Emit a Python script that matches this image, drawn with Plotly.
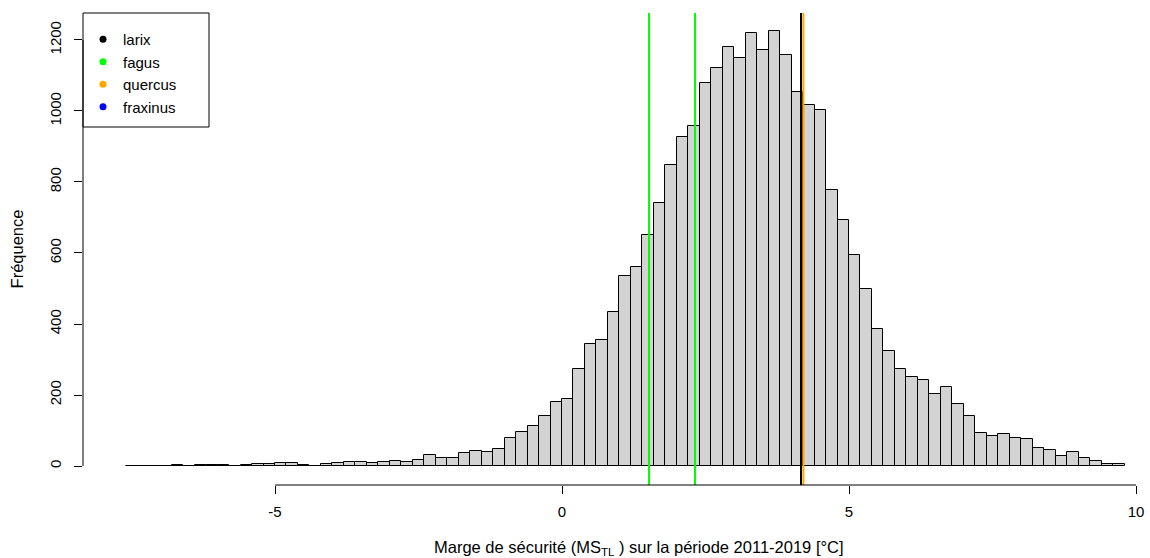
import plotly.graph_objects as go

# ---- data ----
bin_start = -7.6
bin_width = 0.2
counts = [0, 0, 0, 0, 3, 0, 2, 2, 2, 0, 2, 5, 6, 8, 8, 3, 0, 5, 8, 12,
          12, 8, 11, 14, 10, 17, 31, 22, 22, 37, 43, 39, 48, 80, 96, 113, 141, 180,
          189, 274, 344, 355, 434, 535, 561, 650, 740, 847, 927, 957, 1078, 1120,
          1179, 1148, 1219, 1171, 1224, 1157, 1053, 1016, 1002, 777, 692, 595, 499,
          387, 325, 273, 251, 242, 204, 223, 175, 141, 93, 85, 90, 79, 76, 51, 46,
          28, 39, 22, 14, 6, 6]
species = ["larix", "fagus", "quercus", "fraxinus"]
species_colors = ["#000000", "#00FF00", "#FFA500", "#0000FF"]
larix_vals = [4.164]
fagus_vals = [1.516, 2.317]
quercus_vals = [4.205]
fraxinus_vals = []
x_ticks = [-5, 0, 5, 10]
y_ticks = [0, 200, 400, 600, 800, 1000, 1200]
x_title = "Marge de sécurité (MS<sub>TL</sub> ) sur la période 2011-2019 [°C]"
y_title = "Fréquence"

centers = [bin_start + bin_width * (i + 0.5) for i in range(len(counts))]

W, H = 1150, 558
ml, mr, mt, mb = 83, 0, 13, 73
pw, ph = W - ml - mr, H - mt - mb
font = "Liberation Sans, Arial, sans-serif"

fig = go.Figure()
fig.add_trace(go.Bar(
    x=centers, y=counts, width=bin_width,
    marker=dict(color="#D3D3D3", line=dict(color="#000000", width=1)),
    showlegend=False, hoverinfo="x+y",
))

for name, col in zip(species, species_colors):
    fig.add_trace(go.Scatter(
        x=[None], y=[None], mode="markers", name=name,
        marker=dict(color=col, size=7, symbol="circle"),
    ))

line_sets = [(larix_vals, species_colors[0]), (fagus_vals, species_colors[1]),
             (fraxinus_vals, species_colors[3]), (quercus_vals, species_colors[2])]
for vals, col in line_sets:
    for v in vals:
        fig.add_vline(x=v, line=dict(color=col, width=2))

# R-style axis lines spanning only first..last tick
fig.add_shape(type="line", xref="x", yref="paper", x0=min(x_ticks), x1=max(x_ticks),
              y0=0, y1=0, line=dict(color="#000000", width=1))
fig.add_shape(type="line", xref="paper", yref="y", x0=0, x1=0,
              y0=min(y_ticks), y1=max(y_ticks), line=dict(color="#000000", width=1))
# legend box
fig.add_shape(type="rect", xref="paper", yref="paper",
              x0=0, x1=126 / pw, y0=1 - 114 / ph, y1=1,
              line=dict(color="#000000", width=1), fillcolor="rgba(0,0,0,0)")

# x-axis title
fig.add_annotation(text=x_title, xref="paper", yref="paper",
                   x=(639 - ml) / pw, y=-(548 - (H - mb)) / ph,
                   xanchor="center", yanchor="middle", showarrow=False,
                   font=dict(family=font, size=16.5, color="#000000"))

x_per_px = 57.4
fig.update_layout(
    width=W, height=H,
    margin=dict(l=ml, r=mr, t=mt, b=mb, autoexpand=False),
    paper_bgcolor="white", plot_bgcolor="white",
    font=dict(family=font, size=15, color="#000000"),
    bargap=0,
    showlegend=True,
    legend=dict(x=0, y=1 - 10 / ph, xanchor="left", yanchor="top",
                bgcolor="rgba(0,0,0,0)", borderwidth=0,
                font=dict(family=font, size=15, color="#000000"),
                itemwidth=30, tracegroupgap=0),
    xaxis=dict(
        range=[(0 - 562 + ml) / x_per_px, (W - 562) / x_per_px],
        tickvals=x_ticks, ticktext=[str(t) for t in x_ticks],
        ticks="outside", ticklen=8, tickcolor="#000000", tickwidth=1,
        ticklabelstandoff=5,
        showline=False, showgrid=False, zeroline=False,
        tickfont=dict(size=15),
    ),
    yaxis=dict(
        range=[-53.5, 1276],
        tickvals=y_ticks, ticktext=[str(t) for t in y_ticks],
        ticks="outside", ticklen=8, tickcolor="#000000", tickwidth=1,
        tickangle=-90, ticklabelstandoff=7,
        showline=False, showgrid=False, zeroline=False,
        tickfont=dict(size=15),
        title=dict(text=y_title, font=dict(size=16.5), standoff=19),
    ),
)

fig.write_html("out.html", config={"displayModeBar": False},
               post_script="document.body.style.margin='0';document.body.style.padding='0';")
